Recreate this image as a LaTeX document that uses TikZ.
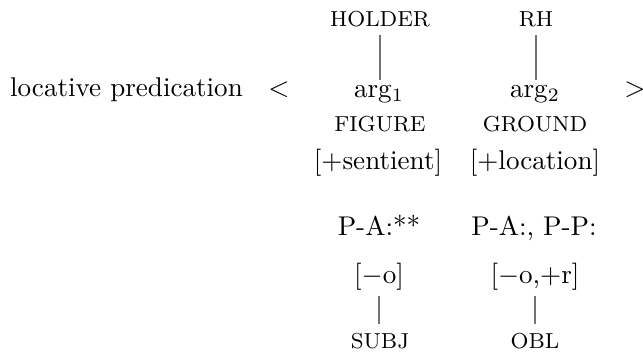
\documentclass[tikz,border=0pt]{standalone}
\usepackage{amsmath}
\usepackage{tikz}

\tikzset{
    word/.style={anchor=base, inner sep=3pt},
    role/.style={word, font=\footnotesize},
    link/.style={black!55, line width=0.4pt}
}

\begin{document}
\begin{tikzpicture}[x=0.369pt, y=-0.369pt]

    \useasboundingbox (0,0) rectangle (643,351);

    % left side
    \node[word] (pred) at (126.5,96) {locative predication};
    \node[word] (lt) at (279,96) {$<$};
    \node[word] (gt) at (635,96) {$>$};

    % upper row
    \node[role] (holder) at (380,26) {HOLDER};
    \node[role] (rh) at (536,26) {RH};

    \node[word] (arg1) at (379,97) {arg$_1$};
    \node[word] (arg2) at (535,97) {arg$_2$};

    \node[role] (figure) at (380,131) {FIGURE};
    \node[role] (ground) at (535,131) {GROUND};

    \node[word] (sent) at (378,169) {[$+$sentient]};
    \node[word] (loc) at (535,169) {[$+$location]};

    % lower row
    \node[word] (pa1) at (379,235) {P-A:**};
    \node[word] (pa2) at (534,235) {P-A:, P-P:};

    \node[word] (o1) at (379,283) {[$-$o]};
    \node[word] (or2) at (535,283) {[$-$o,$+$r]};

    \node[role] (subj) at (380,348) {SUBJ};
    \node[role] (obl) at (535,348) {OBL};

    \draw[link, shorten >=-1.5pt] (holder.south) -- (holder.south |- arg1.north);
    \draw[link, shorten >=-1.5pt] (rh.south) -- (rh.south |- arg2.north);
    \draw[link, shorten <=-1pt] (o1.south) -- (o1.south |- subj.north);
    \draw[link, shorten <=-1pt] (or2.south) -- (or2.south |- obl.north);

\end{tikzpicture}
\end{document}
